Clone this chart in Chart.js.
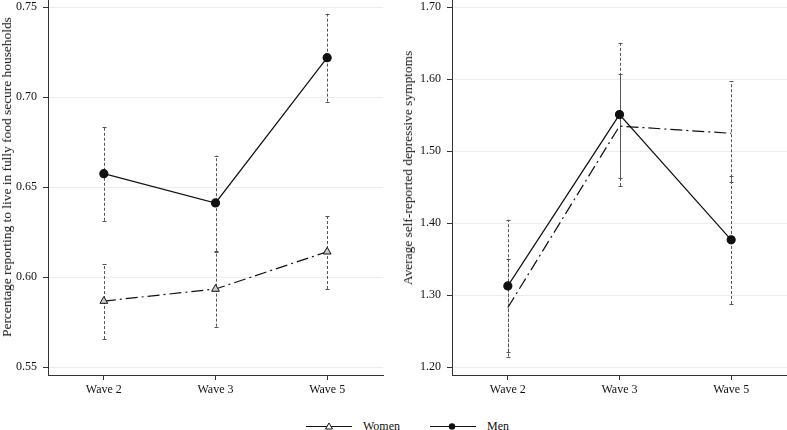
<!DOCTYPE html>
<html>
<head>
<meta charset="utf-8">
<script src="https://cdn.jsdelivr.net/npm/chart.js@4"></script>
<style>
  body { margin: 0; background: #fff; width: 787px; height: 430px; overflow: hidden; position: relative; font-family: "Liberation Serif", "Times New Roman", serif; color: #111; }
  #left { position: absolute; left: 0; top: 0; }
  #right { position: absolute; left: 390px; top: 0; }
  .ytitle { position: absolute; white-space: nowrap; font-size: 13.4px; line-height: 14px; transform: translate(-50%, -50%) rotate(-90deg); }
  #legend { position: absolute; left: 0; top: 418px; width: 787px; height: 16px; font-size: 12px; }
  .item { position: absolute; top: 0; display: flex; align-items: center; }
  .item canvas { margin-right: 11px; }
</style>
</head>
<body>
<canvas id="left" width="390" height="400"></canvas>
<canvas id="right" width="397" height="400"></canvas>
<div class="ytitle" id="titleLeft" style="left:7px; top:177px"></div>
<div class="ytitle" id="titleRight" style="left:408px; top:168px"></div>
<div id="legend">
  <div class="item" style="left:306px"><canvas id="symWomen" width="46" height="16"></canvas><span>Women</span></div>
  <div class="item" style="left:430px"><canvas id="symMen" width="46" height="16"></canvas><span>Men</span></div>
</div>
<script>
// =====================
// DATA
// =====================
const waves = ["Wave 2", "Wave 3", "Wave 5"];

// left panel: food security
const foodMen = [0.6576, 0.6413, 0.7220];
const foodMenLo = [0.6314, 0.6145, 0.6976];
const foodMenHi = [0.6837, 0.6676, 0.7464];
const foodWomen = [0.5868, 0.5935, 0.6142];
const foodWomenLo = [0.5657, 0.5726, 0.5935];
const foodWomenHi = [0.6074, 0.6142, 0.6342];
const foodTicks = [0.55, 0.60, 0.65, 0.70, 0.75];

// right panel: depressive symptoms
const depMen = [1.313, 1.551, 1.377];
const depMenLo = [1.221, 1.452, 1.288];
const depMenHi = [1.405, 1.651, 1.466];
const depWomen = [1.283, 1.535, 1.525];
const depWomenLo = [1.215, 1.463, 1.457];
const depWomenHi = [1.351, 1.608, 1.597];
const depTicks = [1.20, 1.30, 1.40, 1.50, 1.60, 1.70];

const FONT = "'Liberation Serif', 'Times New Roman', Times, serif";
const AXIS = '#333';
const WOMEN_DASH = [12, 4, 2, 4];

// =====================
// ERROR BAR PLUGIN
// =====================
const errorBars = {
  id: 'errorBars',
  beforeDatasetsDraw(chart, args, opts) {
    const ctx = chart.ctx;
    const x = chart.scales.x, y = chart.scales.y;
    ctx.save();
    ctx.strokeStyle = '#555';
    ctx.lineWidth = 1;
    opts.bars.forEach(b => {
      b.lo.forEach((lo, i) => {
        const px = Math.round(x.getPixelForValue(i)) + 0.5;
        const y1 = y.getPixelForValue(lo), y2 = y.getPixelForValue(b.hi[i]);
        ctx.setLineDash([3, 2]);
        ctx.beginPath(); ctx.moveTo(px, y1); ctx.lineTo(px, y2); ctx.stroke();
        ctx.setLineDash([]);
        ctx.beginPath();
        ctx.moveTo(px - 2, Math.round(y1) + 0.5); ctx.lineTo(px + 2, Math.round(y1) + 0.5);
        ctx.moveTo(px - 2, Math.round(y2) + 0.5); ctx.lineTo(px + 2, Math.round(y2) + 0.5);
        ctx.stroke();
      });
    });
    ctx.restore();
  }
};

// =====================
// PANEL BUILDER
// =====================
function makePanel(id, men, women, womenMarkers, ticks, yMin, yMax, yWidth, bars) {
  return new Chart(document.getElementById(id), {
    type: 'line',
    data: {
      labels: waves,
      datasets: [
        {
          label: 'Women', data: women, borderColor: '#111', borderWidth: 1.2,
          borderDash: WOMEN_DASH, pointStyle: 'triangle',
          pointRadius: womenMarkers ? 4.5 : 0, pointBorderWidth: 1,
          pointBackgroundColor: '#ccc', pointBorderColor: '#111', tension: 0
        },
        {
          label: 'Men', data: men, borderColor: '#111', borderWidth: 1.2,
          pointStyle: 'circle', pointRadius: 4,
          pointBackgroundColor: '#111', pointBorderColor: '#111', tension: 0
        }
      ]
    },
    options: {
      responsive: false,
      animation: false,
      layout: { autoPadding: false, padding: { top: 0, right: id === 'left' ? 7 : 0, bottom: 0, left: 0 } },
      plugins: {
        legend: { display: false },
        tooltip: { enabled: false },
        errorBars: { bars: bars }
      },
      scales: {
        x: {
          offset: true,
          grid: { drawOnChartArea: false, tickLength: 5, color: AXIS, offset: false },
          border: { color: AXIS, width: 1 },
          ticks: { font: { family: FONT, size: 12 }, color: '#111', padding: 3 },
          afterFit(s) { s.height = 25; s.paddingLeft = 0; s.paddingRight = 0; }
        },
        y: {
          min: yMin, max: yMax,
          grid: { color: '#ececec', tickColor: AXIS, tickLength: 5 },
          border: { color: AXIS, width: 1 },
          ticks: {
            font: { family: FONT, size: 12 }, color: '#111', padding: 6,
            callback: v => v.toFixed(2)
          },
          afterBuildTicks(s) { s.ticks = ticks.map(v => ({ value: v })); },
          afterFit(s) { s.width = yWidth; s.paddingTop = 0; s.paddingBottom = 0; }
        }
      }
    },
    plugins: [errorBars]
  });
}

makePanel('left', foodMen, foodWomen, true, foodTicks, 0.54573, 0.75406, 48,
  [{ lo: foodMenLo, hi: foodMenHi }, { lo: foodWomenLo, hi: foodWomenHi }]);

makePanel('right', depMen, depWomen, false, depTicks, 1.18931, 1.71014, 62,
  [{ lo: depMenLo, hi: depMenHi }, { lo: depWomenLo, hi: depWomenHi }]);

// axis titles (placed as text, like the original figure)
document.getElementById('titleLeft').textContent = 'Percentage reporting to live in fully food secure households';
document.getElementById('titleRight').textContent = 'Average self-reported depressive symptoms';

// =====================
// LEGEND SYMBOLS
// =====================
function drawSymbol(id, kind) {
  const c = document.getElementById(id).getContext('2d');
  c.strokeStyle = '#111'; c.fillStyle = '#111'; c.lineWidth = 1.2;
  c.beginPath(); c.moveTo(0, 8.5); c.lineTo(46, 8.5); c.stroke();
  if (kind === 'tri') {
    c.fillStyle = '#fff';
    c.beginPath(); c.moveTo(23, 5); c.lineTo(26.5, 11); c.lineTo(19.5, 11); c.closePath();
    c.fill(); c.lineWidth = 1; c.stroke();
  } else {
    c.beginPath(); c.arc(22, 8.5, 3.2, 0, Math.PI * 2); c.fill();
  }
}
drawSymbol('symWomen', 'tri');
drawSymbol('symMen', 'dot');
</script>
</body>
</html>
